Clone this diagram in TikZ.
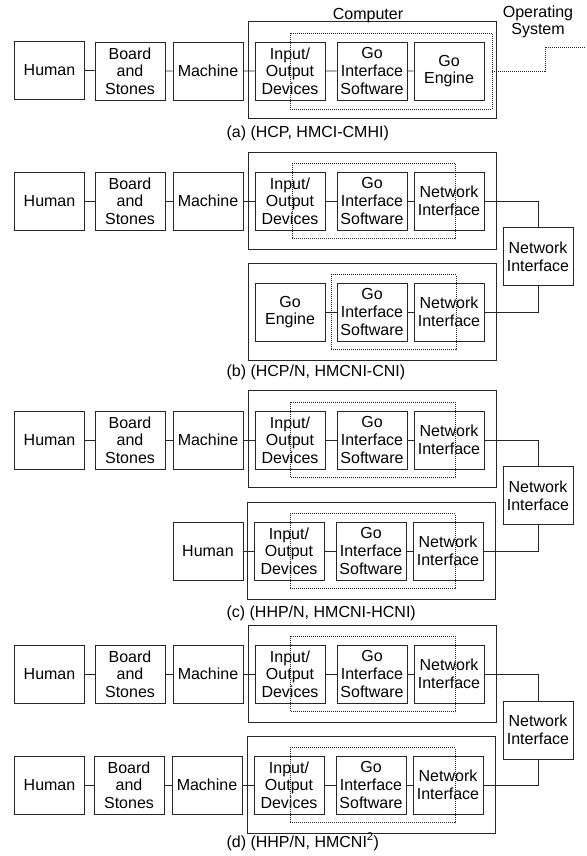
\documentclass[tikz,border=0pt]{standalone}
\usepackage{fontspec}
\setmainfont{Liberation Sans}

\begin{document}
\begin{tikzpicture}[x=1pt, y=-1pt, font=\fontsize{16}{17.7}\selectfont,
  blk/.style={draw=black!85, line width=0.9pt, minimum width=70, minimum height=58, inner sep=0, align=center},
  compbox/.style={draw=black!85, line width=0.9pt, minimum width=248, minimum height=97, inner sep=0},
  dotbox/.style={draw=black!85, line width=0.8pt, dash pattern=on 1pt off 1pt, minimum width=165, minimum height=75, inner sep=0},
  wire/.style={draw=black!85, line width=0.9pt},
  osline/.style={draw=black!85, line width=0.8pt, dash pattern=on 1pt off 1pt}]
\useasboundingbox (0,0) rectangle (586,856);

\node[compbox] (compA) at (372,70) {};
\node[anchor=base] (compLbl) at (368,20) {Computer};
\node[align=center] (osLbl) at (538,22) {Operating\\System};
\node[blk] (humA) at (49.5,70) {Human};
\node[blk] (bsA) at (130,71) {Board\\and\\Stones};
\node[blk] (macA) at (208,71) {Machine};
\node[blk] (ioA) at (290,71) {Input/\\Output\\Devices};
\node[blk] (gisA) at (372,71) {Go\\Interface\\Software};
\node[blk] (engA) at (449,71) {Go\\Engine};
\node[dotbox, minimum width=202, minimum height=76] (dotA) at (391,71) {};
\draw[wire] (humA) -- (bsA) -- (macA) -- (ioA) -- (gisA) -- (engA);
\coordinate (osEnd) at (586,47);
\draw[osline] (dotA.east) -- (545,71) |- (osEnd);
\node[anchor=base west] (capA) at (223,137) {(a) (HCP, HMCI-CMHI)};

\node[compbox] (compB) at (372,200.5) {};
\node[blk] (humB) at (49.5,201) {Human};
\node[blk] (bsB) at (130,201) {Board\\and\\Stones};
\node[blk] (macB) at (208,201) {Machine};
\node[blk] (ioB) at (290,201) {Input/\\Output\\Devices};
\node[blk] (gisB) at (372,201) {Go\\Interface\\Software};
\node[blk] (niB) at (449,201) {Network\\Interface};
\node[dotbox, minimum width=163] (dotB) at (373.5,201) {};
\draw[wire] (humB) -- (bsB) -- (macB) -- (ioB) -- (gisB) -- (niB);
\node[blk] (netB) at (538,256.5) {Network\\Interface};
\node[compbox] (compB2) at (372,311.5) {};
\node[blk] (engB2) at (290,312) {Go\\Engine};
\node[blk] (gisB2) at (372,312) {Go\\Interface\\Software};
\node[blk] (niB2) at (449,312) {Network\\Interface};
\node[dotbox, minimum width=125] (dotB2) at (393.5,312) {};
\draw[wire] (engB2) -- (gisB2) -- (niB2);
\draw[wire] (niB.east) -| (netB.north);
\draw[wire] (niB2.east) -| (netB.south);
\node[anchor=base west] (capB) at (223,376) {(b) (HCP/N, HMCNI-CNI)};

\node[compbox] (compC) at (372,439) {};
\node[blk] (humC) at (49.5,440) {Human};
\node[blk] (bsC) at (130,440) {Board\\and\\Stones};
\node[blk] (macC) at (208,440) {Machine};
\node[blk] (ioC) at (290,440) {Input/\\Output\\Devices};
\node[blk] (gisC) at (372,440) {Go\\Interface\\Software};
\node[blk] (niC) at (449,440) {Network\\Interface};
\node[dotbox] (dotC) at (373,440) {};
\draw[wire] (humC) -- (bsC) -- (macC) -- (ioC) -- (gisC) -- (niC);
\node[blk] (netC) at (538,495.5) {Network\\Interface};
\node[compbox] (compC2) at (371,550.5) {};
\node[blk] (humC2) at (208,551) {Human};
\node[blk] (ioC2) at (289,551) {Input/\\Output\\Devices};
\node[blk] (gisC2) at (371,551) {Go\\Interface\\Software};
\node[blk] (niC2) at (448,551) {Network\\Interface};
\node[dotbox] (dotC2) at (372.5,551) {};
\draw[wire] (humC2) -- (ioC2) -- (gisC2) -- (niC2);
\draw[wire] (niC.east) -| (netC.north);
\draw[wire] (niC2.east) -| (netC.south);
\node[anchor=base west] (capC) at (223,617) {(c) (HHP/N, HMCNI-HCNI)};

\node[compbox] (compD) at (372,674) {};
\node[blk] (humD) at (49.5,674) {Human};
\node[blk] (bsD) at (130,674) {Board\\and\\Stones};
\node[blk] (macD) at (208,674) {Machine};
\node[blk] (ioD) at (290,674) {Input/\\Output\\Devices};
\node[blk] (gisD) at (372,674) {Go\\Interface\\Software};
\node[blk] (niD) at (449,674) {Network\\Interface};
\node[dotbox] (dotD) at (373,674) {};
\draw[wire] (humD) -- (bsD) -- (macD) -- (ioD) -- (gisD) -- (niD);
\node[blk] (netD) at (538,730) {Network\\Interface};
\node[compbox] (compD2) at (371,784.5) {};
\node[blk] (humD2) at (49.5,785) {Human};
\node[blk] (bsD2) at (129,785) {Board\\and\\Stones};
\node[blk] (macD2) at (207,785) {Machine};
\node[blk] (ioD2) at (289,785) {Input/\\Output\\Devices};
\node[blk] (gisD2) at (371,785) {Go\\Interface\\Software};
\node[blk] (niD2) at (448,785) {Network\\Interface};
\node[dotbox] (dotD2) at (372.5,785) {};
\draw[wire] (humD2) -- (bsD2) -- (macD2) -- (ioD2) -- (gisD2) -- (niD2);
\draw[wire] (niD.east) -| (netD.north);
\draw[wire] (niD2.east) -| (netD.south);
\node[anchor=base west] (capD) at (223,847) {(d) (HHP/N, HMCNI\textsuperscript{2})};

\end{tikzpicture}
\end{document}
